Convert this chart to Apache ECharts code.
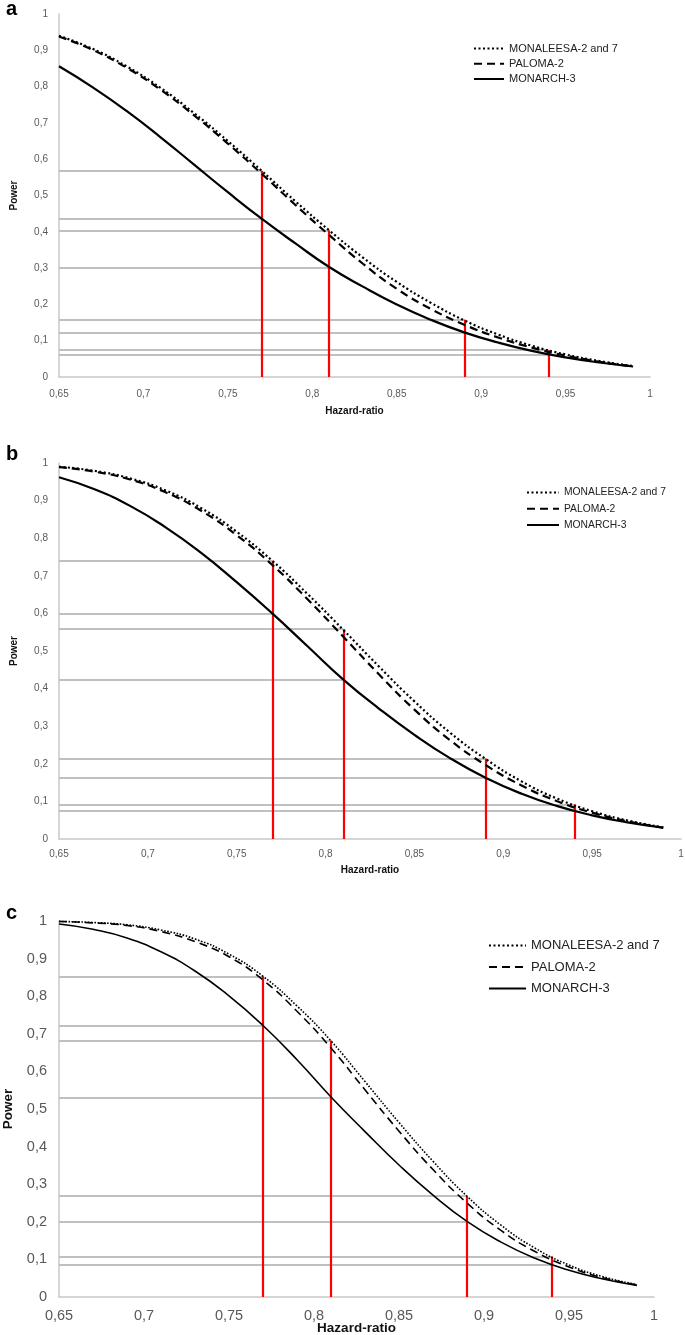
<!DOCTYPE html>
<html lang="en">
<head>
<meta charset="UTF-8">
<title>Power by hazard ratio</title>
<style>html,body{margin:0;padding:0;background:#fff;}</style>
</head>
<body>
<div id="main" style="width:685px;height:1335px;"></div>
<script src="https://cdn.jsdelivr.net/npm/echarts@6/dist/echarts.min.js"></script>
<script>
// hazard ratio grid used for all curves
var hr = [0.65, 0.67, 0.69, 0.71, 0.73, 0.75, 0.77, 0.79, 0.81, 0.83, 0.85, 0.87, 0.89, 0.91, 0.93, 0.95, 0.97, 0.99];

// panel a
var monaleesaA = [0.940, 0.904, 0.856, 0.797, 0.727, 0.650, 0.568, 0.484, 0.404, 0.329, 0.262, 0.205, 0.156, 0.117, 0.086, 0.062, 0.044, 0.030];
var palomaA    = [0.938, 0.901, 0.852, 0.792, 0.721, 0.643, 0.560, 0.474, 0.391, 0.312, 0.243, 0.188, 0.144, 0.109, 0.081, 0.059, 0.042, 0.029];
var monarchA   = [0.856, 0.798, 0.733, 0.661, 0.585, 0.509, 0.436, 0.368, 0.303, 0.249, 0.200, 0.158, 0.123, 0.095, 0.072, 0.054, 0.040, 0.029];

// panel b
var monaleesaB = [0.990, 0.979, 0.959, 0.927, 0.880, 0.817, 0.740, 0.651, 0.556, 0.459, 0.366, 0.283, 0.213, 0.154, 0.108, 0.074, 0.049, 0.031];
var palomaB    = [0.989, 0.977, 0.956, 0.922, 0.873, 0.808, 0.729, 0.637, 0.538, 0.438, 0.344, 0.263, 0.197, 0.143, 0.101, 0.070, 0.047, 0.030];
var monarchB   = [0.962, 0.930, 0.886, 0.829, 0.761, 0.683, 0.600, 0.512, 0.424, 0.347, 0.277, 0.215, 0.163, 0.121, 0.088, 0.063, 0.044, 0.030];

// panel c
var monaleesaC = [0.999, 0.996, 0.990, 0.976, 0.952, 0.912, 0.853, 0.774, 0.681, 0.573, 0.464, 0.361, 0.268, 0.191, 0.130, 0.085, 0.054, 0.033];
var palomaC    = [0.999, 0.995, 0.988, 0.972, 0.945, 0.905, 0.843, 0.760, 0.662, 0.551, 0.441, 0.339, 0.250, 0.177, 0.121, 0.080, 0.051, 0.032];
var monarchC   = [0.992, 0.978, 0.955, 0.918, 0.867, 0.801, 0.722, 0.631, 0.532, 0.440, 0.351, 0.271, 0.201, 0.146, 0.103, 0.071, 0.048, 0.031];

// reference hazard ratios (red lines) and the power read at them
var markerHR = [0.77, 0.81, 0.89, 0.94];
var topA = [0.568, 0.404, 0.158, 0.074], lowA = [0.436, 0.302, 0.122, 0.061];
var topB = [0.740, 0.558, 0.214, 0.092], lowB = [0.600, 0.423, 0.162, 0.075];
var topC = [0.853, 0.682, 0.268, 0.108], lowC = [0.722, 0.531, 0.199, 0.086];

var seriesNames = ['MONALEESA-2 and 7', 'PALOMA-2', 'MONARCH-3'];
var panelLetters = ['a', 'b', 'c'];
var xMin = 0.65, xMax = 1, xStep = 0.05;
var yMin = 0, yMax = 1, yStep = 0.1;

var FONT = 'Liberation Sans';

var panels = [
    { grid: {left: 59, right: 35, top: 14, height: 363}, curves: [monaleesaA, palomaA, monarchA], top: topA, low: lowA,
      lab: 10, nameSize: 10, xGap: 29, yGap: 40, xMargin: 12, yMargin: 11, letterY: 9,
      legend: {left: 468, top: 38, itemWidth: 30, itemHeight: 14, itemGap: 4, fontSize: 11},
      dot: [2, 2.5], dash: [8, 5], width: 2.2 },
    { grid: {left: 59, right: 4, top: 463, height: 376}, curves: [monaleesaB, palomaB, monarchB], top: topB, low: lowB,
      lab: 10, nameSize: 10, xGap: 26, yGap: 40, xMargin: 10, yMargin: 11, letterY: 454,
      legend: {left: 521, top: 482, itemWidth: 32, itemHeight: 14, itemGap: 5, fontSize: 10.3},
      dot: [2, 2.5], dash: [8, 5], width: 2.2 },
    { grid: {left: 59, right: 31, top: 921, height: 376}, curves: [monaleesaC, palomaC, monarchC], top: topC, low: lowC,
      lab: 14.5, nameSize: 13.5, xGap: 24, yGap: 44, xMargin: 11, yMargin: 12, letterY: 913,
      legend: {left: 483, top: 934, itemWidth: 37, itemHeight: 16, itemGap: 8.5, fontSize: 13},
      dot: [1.6, 1.6], dash: [8, 5], width: 1.6 }
];

function fmt(v) {
    return String(+(+v).toFixed(2)).replace('.', ',');
}
function pairs(ys) {
    return hr.map(function (x, i) { return [x, ys[i]]; });
}

var option = { animation: false, backgroundColor: '#fff', grid: [], xAxis: [], yAxis: [], series: [], legend: [], graphic: [] };

panels.forEach(function (p, k) {
    p.grid.outerBoundsMode = 'none';
    option.grid.push(p.grid);
    option.xAxis.push({
        gridIndex: k, type: 'value', min: xMin, max: xMax, interval: xStep,
        name: 'Hazard-ratio', nameLocation: 'middle', nameGap: p.xGap, nameMoveOverlap: false,
        nameTextStyle: {fontFamily: FONT, fontWeight: 'bold', fontSize: p.nameSize, color: '#111'},
        axisLine: {lineStyle: {color: '#c8c8c8', width: 1.5}},
        axisTick: {show: false}, splitLine: {show: false},
        axisLabel: {formatter: fmt, fontFamily: FONT, fontSize: p.lab, color: '#595959', margin: p.xMargin}
    });
    option.yAxis.push({
        gridIndex: k, type: 'value', min: yMin, max: yMax, interval: yStep,
        name: 'Power', nameLocation: 'middle', nameGap: p.yGap, nameMoveOverlap: false,
        nameTextStyle: {fontFamily: FONT, fontWeight: 'bold', fontSize: p.nameSize, color: '#111'},
        axisLine: {show: true, lineStyle: {color: '#c8c8c8', width: 1.5}},
        axisTick: {show: false}, splitLine: {show: false},
        axisLabel: {formatter: fmt, fontFamily: FONT, fontSize: p.lab, color: '#595959', margin: p.yMargin}
    });

    // grey reference lines from the y axis to each red line
    var greys = [], reds = [];
    markerHR.forEach(function (h, i) {
        greys.push({coords: [[xMin, p.top[i]], [h, p.top[i]]]});
        greys.push({coords: [[xMin, p.low[i]], [h, p.low[i]]]});
        reds.push({coords: [[h, yMin], [h, p.top[i]]]});
    });
    option.series.push({
        type: 'lines', coordinateSystem: 'cartesian2d', xAxisIndex: k, yAxisIndex: k, silent: true,
        lineStyle: {color: '#c0c0c0', width: 2.2, opacity: 1}, data: greys
    });
    option.series.push({
        type: 'lines', coordinateSystem: 'cartesian2d', xAxisIndex: k, yAxisIndex: k, silent: true,
        lineStyle: {color: '#ff0000', width: 2.2, opacity: 1}, data: reds
    });

    var types = [p.dot, p.dash, 'solid'];
    p.curves.forEach(function (ys, j) {
        option.series.push({
            name: seriesNames[j], type: 'line', xAxisIndex: k, yAxisIndex: k,
            smooth: true, symbol: 'none', silent: true,
            lineStyle: {color: '#000', width: p.width, type: types[j]},
            itemStyle: {color: '#000'},
            data: pairs(ys)
        });
    });

    option.legend.push({
        data: seriesNames, orient: 'vertical', left: p.legend.left, top: p.legend.top,
        itemWidth: p.legend.itemWidth, itemHeight: p.legend.itemHeight, itemGap: p.legend.itemGap,
        selectedMode: false,
        itemStyle: {opacity: 0},
        textStyle: {fontFamily: FONT, fontSize: p.legend.fontSize, color: '#222'}
    });

    option.graphic.push({
        type: 'text', left: 6, top: p.letterY - 10,
        style: {text: panelLetters[k], font: 'bold 20px "Liberation Sans"', fill: '#000'}
    });
});

var myChart = echarts.init(document.getElementById('main'));
myChart.setOption(option);
</script>
</body>
</html>
